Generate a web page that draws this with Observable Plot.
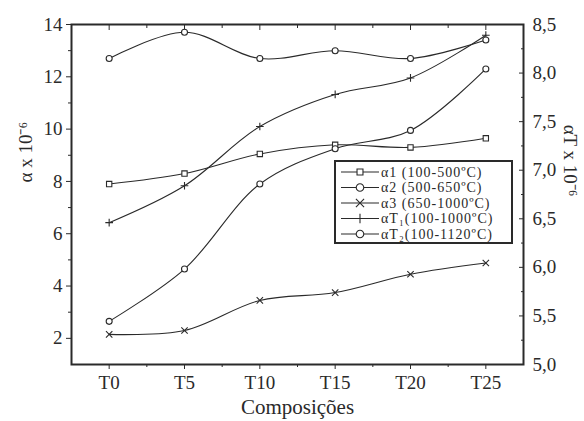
<!DOCTYPE html>
<html>
<head>
<meta charset="utf-8">
<script src="https://cdn.jsdelivr.net/npm/d3@7"></script>
<script src="https://cdn.jsdelivr.net/npm/@observablehq/plot@0.6"></script>
<style>
  html, body { margin: 0; padding: 0; background: #fff; }
  #wrap { position: relative; width: 584px; height: 421px; }
  #legend { position: absolute; left: 0; top: 0; }
</style>
</head>
<body>
<div id="wrap"></div>
<script>
// ---- data ----
const categories = ["T0", "T5", "T10", "T15", "T20", "T25"];
const alpha1 = [7.9, 8.3, 9.05, 9.4, 9.3, 9.65];      // left axis
const alpha2 = [2.65, 4.65, 7.9, 9.25, 9.95, 12.3];   // left axis
const alpha3 = [2.15, 2.3, 3.45, 3.75, 4.45, 4.88];   // left axis
const alphaT1 = [6.46, 6.84, 7.45, 7.78, 7.95, 8.39]; // right axis
const alphaT2 = [8.15, 8.42, 8.15, 8.23, 8.15, 8.34]; // right axis
const seriesNames = ["α1 (100-500ºC)", "α2 (500-650ºC)", "α3 (650-1000ºC)", "αT₁(100-1000ºC)", "αT₂(100-1120ºC)"];
const seriesSymbols = ["square", "circle", "times", "plus", "circle"];
const leftTicks = [2, 4, 6, 8, 10, 12, 14];
const leftMinor = [3, 5, 7, 9, 11, 13];
const rightTicks = [5.0, 5.5, 6.0, 6.5, 7.0, 7.5, 8.0, 8.5];
const rightTickLabels = ["5,0", "5,5", "6,0", "6,5", "7,0", "7,5", "8,0", "8,5"];
const rightMinor = [5.25, 5.75, 6.25, 6.75, 7.25, 7.75, 8.25];
const leftDomain = [1, 14];
const rightDomain = [5, 8.5];
const leftLabel = "α x 10⁻⁶";
const rightLabel = "αT x 10⁻⁶";
const xLabel = "Composições";

// right-axis value -> left-axis units
const toLeft = r => leftDomain[0] + (r - rightDomain[0]) * (leftDomain[1] - leftDomain[0]) / (rightDomain[1] - rightDomain[0]);

const rows = [];
const add = (name, vals, conv) => vals.forEach((v, i) => rows.push({series: name, i, v: conv ? toLeft(v) : v}));
add(seriesNames[0], alpha1);
add(seriesNames[1], alpha2);
add(seriesNames[2], alpha3);
add(seriesNames[3], alphaT1, true);
add(seriesNames[4], alphaT2, true);

const xMajor = d3.range(categories.length);
const xMinor = d3.range(categories.length - 1).map(i => i + 0.5);
const ink = "#2a2a2a";
const font = "'Liberation Serif', 'Times New Roman', serif";

const marks = [
  Plot.frame({stroke: ink, strokeWidth: 2}),
  // left axis
  Plot.axisY(leftTicks, {anchor: "left", tickSize: 5, tickPadding: 4, fontSize: 19, label: null}),
  Plot.axisY(leftMinor, {anchor: "left", tickSize: 3, tickFormat: () => "", label: null}),
  // right axis (inward ticks, labels outside)
  Plot.axisY(rightTicks.map(toLeft), {anchor: "right", tickSize: -5, tickFormat: () => "", label: null}),
  Plot.axisY(rightMinor.map(toLeft), {anchor: "right", tickSize: -3, tickFormat: () => "", label: null}),
  Plot.axisY(rightTicks.map(toLeft), {anchor: "right", tickSize: 0, tickPadding: 9, fontSize: 19,
    tickFormat: (d, k) => rightTickLabels[k], label: null}),
  // bottom axis
  Plot.axisX(xMajor, {anchor: "bottom", tickSize: 5, tickPadding: 6, fontSize: 19,
    tickFormat: d => categories[d], label: null}),
  Plot.axisX(xMinor, {anchor: "bottom", tickSize: 3, tickFormat: () => "", label: null}),
  // top inward ticks
  Plot.axisX(xMajor, {anchor: "top", tickSize: -5, tickFormat: () => "", label: null}),
  Plot.axisX(xMinor, {anchor: "top", tickSize: -3, tickFormat: () => "", label: null}),
  // axis titles
  Plot.text([leftLabel], {text: d => d, frameAnchor: "left", rotate: -90, dx: -46, dy: -12, fontSize: 19}),
  Plot.text([rightLabel], {text: d => d, frameAnchor: "right", rotate: 90, dx: 47, dy: 2, fontSize: 19}),
  Plot.text([xLabel], {text: d => d, frameAnchor: "bottom", dy: 49, fontSize: 21}),
  // series
  Plot.line(rows, {x: "i", y: "v", z: "series", curve: "catmull-rom", stroke: ink, strokeWidth: 1.1}),
];
seriesNames.forEach((name, k) => {
  const sym = seriesSymbols[k];
  const r = sym === "plus" ? 2.6 : 3;
  marks.push(Plot.dot(rows.filter(d => d.series === name), {
    x: "i", y: "v", symbol: () => sym, r,
    stroke: ink, strokeWidth: 1.1, fill: "white"
  }));
});

const chart = Plot.plot({
  width: 584, height: 421,
  marginLeft: 71, marginRight: 61, marginTop: 24, marginBottom: 57,
  x: {domain: [-0.5, 5.5], axis: null},
  y: {domain: leftDomain, axis: null},
  symbol: {type: "identity"},
  style: {fontFamily: font, fontSize: "19px", color: ink, background: "white", overflow: "visible"},
  marks
});
const wrap = document.getElementById("wrap");
wrap.appendChild(chart);

// ---- legend (overlay) ----
const lg = d3.select(wrap).append("svg").attr("id", "legend").attr("width", 584).attr("height", 421);
const box = {x: 335, y: 161, w: 177, h: 82};
lg.append("rect").attr("x", box.x).attr("y", box.y).attr("width", box.w).attr("height", box.h)
  .attr("fill", "white").attr("stroke", ink).attr("stroke-width", 2);
seriesNames.forEach((name, k) => {
  const cy = box.y + 11 + k * 15.5;
  const g = lg.append("g");
  g.append("line").attr("x1", box.x + 6).attr("x2", box.x + 44).attr("y1", cy).attr("y2", cy)
    .attr("stroke", ink).attr("stroke-width", 1.1);
  const s = seriesSymbols[k];
  const type = s === "square" ? d3.symbolSquare2 : s === "circle" ? d3.symbolCircle : s === "times" ? d3.symbolTimes : d3.symbolPlus;
  g.append("path").attr("d", d3.symbol(type, s === "plus" ? 30 : 45)()).attr("transform", `translate(${box.x + 25},${cy})`)
    .attr("fill", "white").attr("stroke", ink).attr("stroke-width", 1.1);
  g.append("text").attr("x", box.x + 46).attr("y", cy).attr("dy", "0.35em")
    .attr("font-family", font).attr("font-size", 14).attr("letter-spacing", "1px")
    .attr("fill", ink).text(name);
});
</script>
</body>
</html>
